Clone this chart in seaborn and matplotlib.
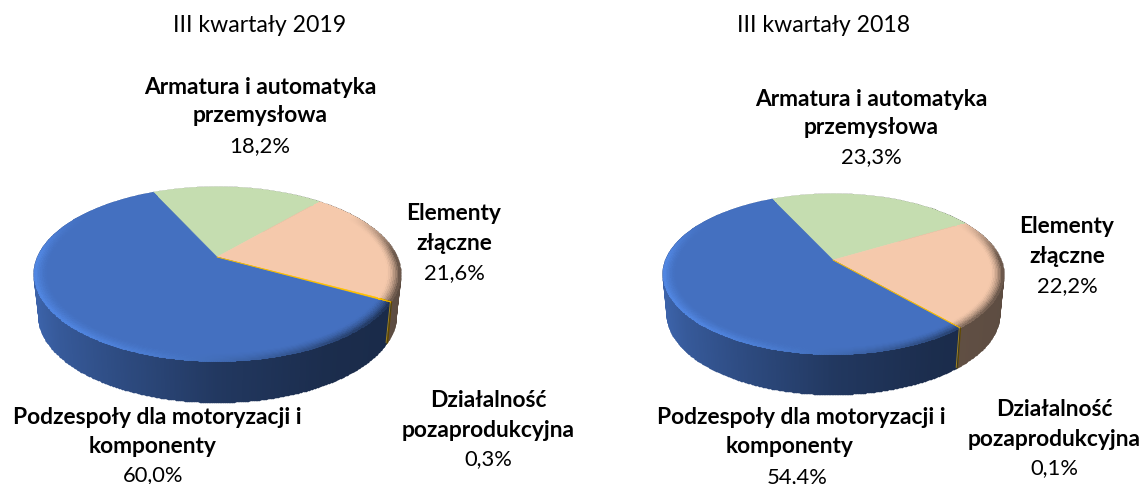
import numpy as np
import matplotlib
matplotlib.use('Agg')
import matplotlib.pyplot as plt
import seaborn as sns

# 数据
titles = ['III kwartały 2019', 'III kwartały 2018']
segments = ['Armatura i automatyka przemysłowa', 'Elementy złączne',
            'Działalność pozaprodukcyjna', 'Podzespoły dla motoryzacji i komponenty']
values_2019 = [18.2, 21.6, 0.3, 60.0]
values_2018 = [23.3, 22.2, 0.1, 54.4]
labels_2019 = ['18,2%', '21,6%', '0,3%', '60,0%']
labels_2018 = ['23,3%', '22,2%', '0,1%', '54,4%']

sns.set_theme(style='white')
plt.rcParams['font.family'] = ['Lato', 'DejaVu Sans']
plt.rcParams['text.color'] = 'black'
colors = np.array(sns.color_palette(['#C5DDB0', '#F5C9AC', '#FFC000', '#4470C0']))
highlight = np.array(sns.color_palette(['#C5DDB0', '#F8D2B8', '#FFC000', '#5288E4']))


def project(theta, r, p):
    # 透视投影：圆盘 -> 屏幕像素坐标
    u, v = r * np.sin(theta), r * np.cos(theta)
    d = 1 + p['k'] * v
    return p['cx'] + p['A'] * u / d, p['cy'] - p['B'] * v / d


def shade(x, p):
    t = (x - p['cx']) / (2 * p['rx']) + 0.5
    return np.interp(t, [0, 0.06, 0.22, 0.5, 0.8, 1], [0.88, 0.8, 0.68, 0.5, 0.4, 0.38])


def draw_pie(ax, values, p):
    fracs = np.array(values) / sum(values) * 2 * np.pi
    starts = p['start'] + np.concatenate([[0], np.cumsum(fracs)[:-1]])

    # 侧面：底部略收窄
    for a, f, c in zip(starts, fracs, colors):
        th = np.linspace(a, a + f, max(int(f * 120), 2) + 1)
        x, y = project(th, 1, p)
        xb = p['cx'] + (x - p['cx']) * 0.975
        X = np.array([x, xb])
        Y = np.array([y, y + p['depth']])
        xm = (x[:-1] + x[1:]) / 2
        C = (c[None, None, :] * shade(xm, p)[None, :, None])
        ax.pcolormesh(X, Y, C, edgecolors='face', linewidth=1.0, antialiased=True)

    # 顶面
    for a, f, c in zip(starts, fracs, colors):
        th = np.linspace(a, a + f, max(int(f * 120), 2) + 1)
        x, y = project(th, 1, p)
        ax.fill(np.r_[p['cx'], x], np.r_[p['cy'], y], color=c, lw=0.4, zorder=3)

    # 顶面边缘高光
    r0 = 0.93
    rs = np.linspace(r0, 1, 9)
    for a, f, c, h in zip(starts, fracs, colors, highlight):
        th = np.linspace(a, a + f, max(int(f * 120), 2) + 1)
        X = np.array([project(th, r, p)[0] for r in rs])
        Y = np.array([project(th, r, p)[1] for r in rs])
        xc = (X[:-1, :-1] + X[1:, 1:]) / 2
        thm = (th[:-1] + th[1:]) / 2
        far = np.clip((0.55 - np.cos(thm)) / 0.5, 0, 1)
        t = np.clip((xc - p['cx']) / (2 * p['rx']) + 0.5, 0, 1)[..., None]
        target = h * (1 - t ** 1.5) + c * shade(xc, p)[..., None] * t ** 1.5
        s = ((rs[:-1] + rs[1:]) / 2 - r0) / (1 - r0)
        w = (s[:, None] ** 1.5 * far[None, :])[..., None]
        C = c * (1 - w) + target * w
        ax.pcolormesh(X, Y, np.clip(C, 0, 1), edgecolors='face', linewidth=0.6,
                      antialiased=True, zorder=4)

    # 扇区分界线（金色）
    th = starts[2] + fracs[2] / 2
    x, y = project(th, 1, p)
    ax.plot([p['cx'], x], [p['cy'], y], color=colors[2], lw=0.6, zorder=5)
    ax.plot([x, p['cx'] + (x - p['cx']) * 0.975], [y, y + p['depth']],
            color=colors[2], lw=0.7, alpha=0.6, zorder=5)


fig = plt.figure(figsize=(11.4, 4.85), dpi=100)
ax = fig.add_axes([0, 0, 1, 1])
ax.set_xlim(0, 1140)
ax.set_ylim(485, 0)
ax.axis('off')

geom_2019 = dict(cx=217, cy=258, A=179.5, B=83.7, k=0.195, rx=183, depth=41, start=np.radians(-24.7))
geom_2018 = dict(cx=833, cy=261, A=167.4, B=77.6, k=0.175, rx=170, depth=40, start=np.radians(-24.9))
draw_pie(ax, values_2019, geom_2019)
draw_pie(ax, values_2018, geom_2018)

ax.text(260, 26, titles[0], fontsize=16.6, ha='center', va='center')
ax.text(824, 26, titles[1], fontsize=16.6, ha='center', va='center')

bold = dict(fontsize=16.4, fontweight='bold', ha='center', va='center')
reg = dict(fontsize=15.8, ha='center', va='center')

# 2019
ax.text(260, 87, 'Armatura i automatyka', **bold)
ax.text(260, 116, 'przemysłowa', **bold)
ax.text(260, 146, labels_2019[0], **reg)
ax.text(454, 214, 'Elementy', **bold)
ax.text(454, 244, 'złączne', **bold)
ax.text(454, 273, labels_2019[1], **reg)
ax.text(488, 401, 'Działalność', **bold)
ax.text(488, 431, 'pozaprodukcyjna', **bold)
ax.text(488, 459, labels_2019[2], **reg)
ax.text(157, 418, 'Podzespoły dla motoryzacji i', **bold)
ax.text(153, 447, 'komponenty', **bold)
ax.text(153, 475, labels_2019[3], **reg)

# 2018
ax.text(871, 99, 'Armatura i automatyka', **bold)
ax.text(871, 128, 'przemysłowa', **bold)
ax.text(871, 157, labels_2018[0], **reg)
ax.text(1067, 227, 'Elementy', **bold)
ax.text(1067, 257, 'złączne', **bold)
ax.text(1067, 286, labels_2018[1], **reg)
ax.text(1054, 410, 'Działalność', **bold)
ax.text(1054, 440, 'pozaprodukcyjna', **bold)
ax.text(1054, 468, labels_2018[2], **reg)
ax.text(801, 418, 'Podzespoły dla motoryzacji i', **bold)
ax.text(790, 447, 'komponenty', **bold)
ax.text(797, 477, labels_2018[3], **reg)

fig.savefig('out.png', dpi=100)
